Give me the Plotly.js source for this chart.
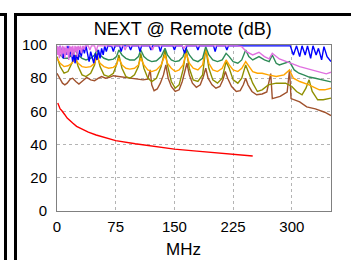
<!DOCTYPE html>
<html>
<head>
<meta charset="utf-8">
<script src="https://cdn.plot.ly/plotly-3.0.1.min.js"></script>
<style>
  html, body { margin: 0; padding: 0; background: #fff; }
  #wrap { position: relative; width: 351px; height: 260px; overflow: hidden; }
  #chart { position: absolute; left: 0; top: 0; width: 351px; height: 260px; }
  .fr { position: absolute; background: #000; z-index: 5; }
</style>
</head>
<body>
<div id="wrap">
  <div id="chart"></div>
  <div class="fr" style="left:0;top:13px;width:7px;height:3px"></div>
  <div class="fr" style="left:4px;top:13px;width:3px;height:247px"></div>
  <div class="fr" style="left:14px;top:13px;width:337px;height:3px"></div>
  <div class="fr" style="left:14px;top:13px;width:3px;height:247px"></div>
</div>
<script>
// ---- data (MHz / dB) ----
const chartTitle = "NEXT @ Remote (dB)";
const xTitle = "MHz";
const xTickVals = [0, 75, 150, 225, 300];
const yTickVals = [0, 20, 40, 60, 80, 100];

const limitFreq = [1, 2, 4, 6, 8, 10, 13, 16, 20, 25, 31.25, 40, 50, 62.5, 75, 100, 125, 150, 175, 200, 225, 250];
const limitDb   = [65, 63.5, 61.5, 60.5, 59.5, 58, 56, 54.5, 53, 51, 49.5, 47.5, 45.8, 44, 42.4, 40.5, 38.8, 37.3, 36.2, 35.2, 34.3, 33.1];

const brownFreq = [0,3,7,10,13,17,20,24,28,33,38,43,48,53,57,62,67,72,80,87,95,103,110,116,119,121,124,128,132,136,139,142,146,151,156,160,163,166,169,173,178,183,187,190,193,198,203,208,212,215,218,223,229,234,238,241,244,249,255,262,268,273,275,285,294,297,299,310,319,330,342,350];
const brownDb   = [83,80,77,76,77,79.5,80,78,76.5,78.5,80.5,79,78.5,80,81,80,80.5,81.5,81,80.5,80,79.5,79,79.5,85,76,72.5,73.5,77,82,88,80,75,72,73,78,83,89,82,77,74.5,76,81,86,80,76,74,75,79,84,80,75,72,72.5,76,80,76,72,70,70.5,71.7,82.8,67.7,69,71.7,84.9,67.7,65.7,62.7,61.5,59.5,57.5];

const oliveFreq = [0,4,9,14,19,23,27,32,37,43,48,51,55,60,66,72,76,79,83,88,93,99,104,107,111,116,121,127,133,138,141,146,151,156,161,165,169,174,180,186,190,194,199,205,211,216,220,225,231,236,241,245,250,256,262,270,280,292,300,306,313,318,322,326,333,340,350];
const oliveDb   = [93,87,83,84,89,94,87,82,81,83,88,95,87,82,81,83,88,94,86,81,80,82,87,95,86,80,78,80,87,97,88,78,74,76,85,97,86,79,78,82,98,86,79,77,80,90,86,79,77,80,88,83,77,72,73,76,77,77,75,72,70,74,79,72,67,67,68];

const orangeFreq = [0,4,9,14,19,23,27,32,37,43,48,51,55,60,66,72,76,79,83,88,93,99,104,107,111,116,121,127,133,138,141,146,151,156,161,165,169,174,180,186,190,194,199,205,211,216,220,225,231,236,241,245,250,256,262,270,280,290,297,302,310,322,330,335,342,350];
const orangeDb   = [92,89,87,87.5,89,92,89,87,86.5,87,89,93,89,87,86,86.5,88,92,88,86,85.5,86,88,92,88,85,84,85,88,94,89,86,84,85,88,95,89,86,85,88,98,89,85,84,86,91,88,85,84,86,90,87,84,83,83,82,81,82,85,80,78,76,74,73,73,74];

const greenFreq = [0,4,9,14,19,23,27,32,37,43,48,51,55,60,66,72,76,79,83,88,93,99,104,107,111,116,121,127,133,138,141,146,151,156,161,165,169,174,180,186,190,194,199,205,211,216,220,225,231,236,241,245,250,258,265,271,275,280,284,290,297,303,309,315,322,330,339,350];
const greenDb   = [97,94,92,92,94,97,94,92,91,92,94,97,94,92,91,91.5,93,97,94,92,91,91,93,97,93,91,90,90.5,93,98,94,91,90,90.5,93,98,94,91,90,92,99,94,91,90,91,95,93,90,89,91,97,93,91,93,91,90,94,89,88,89,90,85,83,82,80.7,80,78.8,77.8];

const blueFreq = [0,2,4,6,8,10,12,14,16,18,20,22,23,25,27,29,31,33,35,37,39,41,43,45,47,49,51,53,55,57,59,61,63,65,70,72,74,80,82,84,92,94,96,104,106,108,118,120,122,130,132,134,148,150,152,160,163,166,178,180,182,200,202,204,215,217,219,298,302,306,310,313,317,320,324,327,331,334,338,341,345,350];
const blueDb   = [99,95,99.5,96,92,98,94,99.5,93,97,90,95,89,94,91,97,93,99,95,99.5,94,90,96,92,89,95,91,97,92,98,94,99.5,96,99.5,99,96,99.5,99.5,96,99.5,99.5,97,99.5,99.5,96,99.5,99.5,97,99.5,99.5,96,99.5,99.5,97,99.5,99.5,95,99.5,99.5,97,99.5,99.5,96,99.5,99.5,97,99.5,99.5,94,99.5,93,99.5,94,99.5,92,99.5,94,98,91,99,93,90];

const violetFreq = [0,1,2,3,4,5,6,7,8,9,10,11,12,13,14,15,16,17,18,19,20,21,22,23,24,25,26,27,28,30,31,33,35,36,40,42,44,48,50,52,60,85,87,89,120,122,124,160,162,164,230,236,242,250,258,265,271,275,284,292,301,310,322,334,344,350];
const violetDb   = [99.5,94,99,92,99.5,96,93,99.5,95,99,92,97,99.5,94,98,91,99.5,96,99,93,99.5,97,94,99.5,96,99,93,99.5,97,99.5,95,99.5,97,99.5,99.5,97,99.5,99.5,96,99.5,99.5,99.5,97,99.5,99.5,97,99.5,99.5,98,99.5,99.5,99,96,94,95.6,93,91.6,95,91.6,90,88.6,87,85.6,84,82.6,83.6];

const seriesDefs = [
  {x: limitFreq,  y: limitDb,  color: "#ff0000"},
  {x: brownFreq,  y: brownDb,  color: "#a0522d"},
  {x: oliveFreq,  y: oliveDb,  color: "#8f8f00"},
  {x: orangeFreq, y: orangeDb, color: "#ffa500"},
  {x: greenFreq,  y: greenDb,  color: "#2e8b57"},
  {x: blueFreq,   y: blueDb,   color: "#0000ff"},
  {x: violetFreq, y: violetDb, color: "#e070e0"}
];

const traces = seriesDefs.map(s => ({
  type: "scatter", mode: "lines", x: s.x, y: s.y,
  line: {color: s.color, width: 1.4}, hoverinfo: "skip", showlegend: false
}));

const font = "Liberation Sans, Arial, sans-serif";
const layout = {
  width: 351, height: 260,
  margin: {l: 57, r: 20, t: 45, b: 49},
  paper_bgcolor: "#fff", plot_bgcolor: "#fff",
  font: {family: font, size: 15, color: "#000"},
  title: {text: chartTitle, font: {family: font, size: 18, color: "#000"},
          x: 0.521, xanchor: "center", xref: "container", y: 0.89, yanchor: "middle", yref: "container"},
  showlegend: false,
  xaxis: {range: [0, 350], tickvals: xTickVals, ticktext: xTickVals.map(String),
          showgrid: true, gridcolor: "#b4b4b4", griddash: "dot", gridwidth: 1,
          showline: true, linecolor: "#808080", linewidth: 1, mirror: true,
          zeroline: false, ticks: "", ticklabelstandoff: 2,
          tickfont: {family: font, size: 15, color: "#000"}, fixedrange: true},
  yaxis: {range: [0, 100], tickvals: yTickVals, ticktext: yTickVals.map(String),
          showgrid: true, gridcolor: "#b4b4b4", griddash: "dot", gridwidth: 1,
          showline: true, linecolor: "#808080", linewidth: 1, mirror: true,
          zeroline: false, ticks: "", ticklabelstandoff: 6,
          tickfont: {family: font, size: 15, color: "#000"}, fixedrange: true},
  annotations: [{text: xTitle, xref: "paper", yref: "paper", x: (183 - 57) / 274, y: (211 - 249) / 166,
                 xanchor: "center", yanchor: "middle", showarrow: false,
                 font: {family: font, size: 17, color: "#000"}}]
};

Plotly.newPlot("chart", traces, layout, {staticPlot: true, displayModeBar: false});
</script>
</body>
</html>
